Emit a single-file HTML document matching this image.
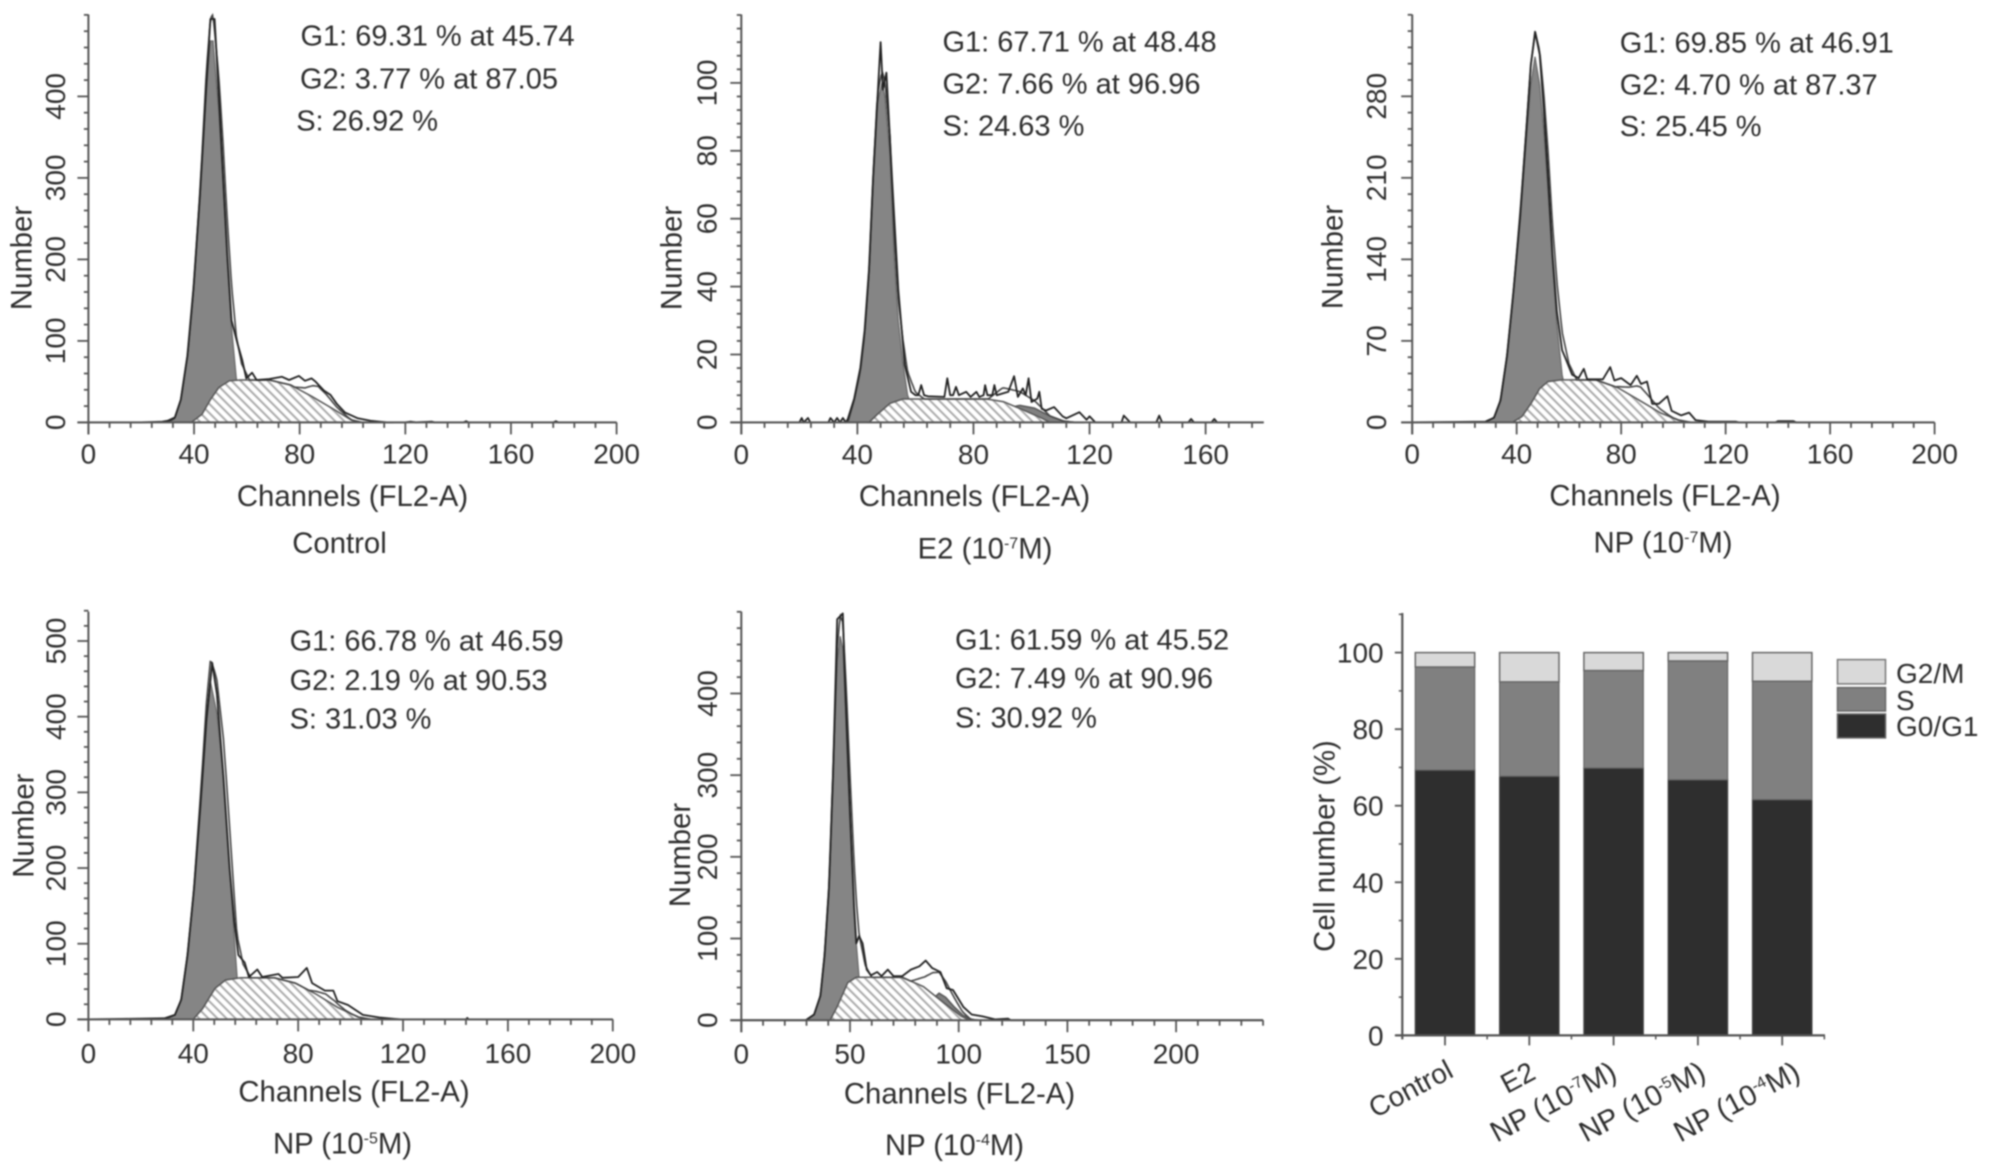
<!DOCTYPE html>
<html lang="en">
<head>
<meta charset="utf-8">
<title>Cell cycle flow cytometry histograms</title>
<style>
html,body{margin:0;padding:0;background:#fff;width:1989px;height:1174px;overflow:hidden}
svg{display:block;filter:blur(0.7px)}
text{font-family:"Liberation Sans",sans-serif;fill:#2e2e2e}
.st{font-size:29px}.ti{font-size:29.3px}.tk{font-size:28px}
</style>
</head>
<body>
<svg id="fig" xmlns="http://www.w3.org/2000/svg" width="1989" height="1174" viewBox="0 0 1989 1174">
<defs>
<pattern id="hatch" patternUnits="userSpaceOnUse" width="6.4" height="6.4" patternTransform="rotate(-45)">
<rect width="6.4" height="6.4" fill="#fff"/>
<line x1="3.2" y1="0" x2="3.2" y2="6.4" stroke="#a6a6a6" stroke-width="1.9"/>
</pattern>
</defs>
<g>
<text class="st" x="300.5" y="45.4">G1: 69.31 % at 45.74</text>
<text class="st" x="300" y="88.3">G2: 3.77 % at 87.05</text>
<text class="st" x="296.2" y="130.5">S: 26.92 %</text>
</g>
<text class="ti" x="352.5" y="506" text-anchor="middle">Channels (FL2-A)</text>
<text class="ti" x="339.5" y="553" text-anchor="middle">Control</text>
<text class="ti" transform="translate(31.5 258) rotate(-90)" text-anchor="middle">Number</text>

<g>
<text class="st" x="942.5" y="51.6">G1: 67.71 % at 48.48</text>
<text class="st" x="942.5" y="93.4">G2: 7.66 % at 96.96</text>
<text class="st" x="942.5" y="135.6">S: 24.63 %</text>
</g>
<text class="ti" x="974.5" y="506" text-anchor="middle">Channels (FL2-A)</text>
<text class="ti" x="985" y="558.5" text-anchor="middle">E2 (10<tspan dy="-10" font-size="16">-7</tspan><tspan dy="10">M)</tspan></text>
<text class="ti" transform="translate(681.6 258) rotate(-90)" text-anchor="middle">Number</text>

<g>
<text class="st" x="1619.7" y="52.7">G1: 69.85 % at 46.91</text>
<text class="st" x="1619.7" y="94.5">G2: 4.70 % at 87.37</text>
<text class="st" x="1619.7" y="136.2">S: 25.45 %</text>
</g>
<text class="ti" x="1665" y="505.3" text-anchor="middle">Channels (FL2-A)</text>
<text class="ti" x="1663" y="552.3" text-anchor="middle">NP (10<tspan dy="-10" font-size="16">-7</tspan><tspan dy="10">M)</tspan></text>
<text class="ti" transform="translate(1342.5 257) rotate(-90)" text-anchor="middle">Number</text>

<g>
<text class="st" x="289.6" y="650.7">G1: 66.78 % at 46.59</text>
<text class="st" x="289.6" y="689.8">G2: 2.19 % at 90.53</text>
<text class="st" x="289.6" y="728.5">S: 31.03 %</text>
</g>
<text class="ti" x="354" y="1101.5" text-anchor="middle">Channels (FL2-A)</text>
<text class="ti" x="342.5" y="1153.5" text-anchor="middle">NP (10<tspan dy="-10" font-size="16">-5</tspan><tspan dy="10">M)</tspan></text>
<text class="ti" transform="translate(33.7 825.7) rotate(-90)" text-anchor="middle">Number</text>

<g>
<text class="st" x="955" y="649.6">G1: 61.59 % at 45.52</text>
<text class="st" x="955" y="688">G2: 7.49 % at 90.96</text>
<text class="st" x="955" y="727.5">S: 30.92 %</text>
</g>
<text class="ti" x="959.5" y="1103.5" text-anchor="middle">Channels (FL2-A)</text>
<text class="ti" x="954.5" y="1155" text-anchor="middle">NP (10<tspan dy="-10" font-size="16">-4</tspan><tspan dy="10">M)</tspan></text>
<text class="ti" transform="translate(690 855) rotate(-90)" text-anchor="middle">Number</text>

<text class="ti" transform="translate(1334.6 846) rotate(-90)" text-anchor="middle">Cell number (%)</text>
<g>
<text class="tk" transform="translate(1455 1076) rotate(-28)" text-anchor="end">Control</text>
<text class="tk" transform="translate(1537.4 1078) rotate(-28)" text-anchor="end">E2</text>
<text class="tk" style="font-size:29px" transform="translate(1618.5 1078) rotate(-28)" text-anchor="end">NP (10<tspan dy="-10" font-size="16">-7</tspan><tspan dy="10">M)</tspan></text>
<text class="tk" style="font-size:29px" transform="translate(1707.5 1078) rotate(-28)" text-anchor="end">NP (10<tspan dy="-10" font-size="16">-5</tspan><tspan dy="10">M)</tspan></text>
<text class="tk" style="font-size:29px" transform="translate(1802 1078) rotate(-28)" text-anchor="end">NP (10<tspan dy="-10" font-size="16">-4</tspan><tspan dy="10">M)</tspan></text>
</g>
<g>
<rect x="1837.5" y="659.6" width="48" height="24.3" fill="#d9d9d9" stroke="#777" stroke-width="1.5"/>
<rect x="1837.5" y="687.6" width="48" height="23.4" fill="#808080" stroke="#666" stroke-width="1.5"/>
<rect x="1837.5" y="714" width="48" height="23.9" fill="#2e2e2e" stroke="#666" stroke-width="1.5"/>
<text class="tk" x="1896" y="683">G2/M</text>
<text class="tk" x="1896" y="710">S</text>
<text class="tk" x="1896" y="736">G0/G1</text>
</g>
</svg>
<script>
/* Control */
const controlHistChannels=[0,20,28,30,32.7,35,37.5,39.8,42.2,44.6,46.2,47.8,49.4,51,52.6,54.2,56.6,58.2,59.8,62,63.7,68,73.3,76,79.7,82,84.5,86,89.2,91.6,94,97.2,102,106.8,113,120,122,124,130,131,142,143,144,176,177,178,200];
const controlHistCounts=[0,0,1,2,6,28,82,165,278,410,495,495,400,300,205,125,95,77,54,61,52,53,56,52,57,51,54,50,39,34,23,12,5,2,0,0,1,0,1,0,0,1.5,0,0,1.5,0,0];
const controlG1Channels=[30,32.7,35,37.5,39.8,42.2,44.6,46.2,47.2,49.4,51,52.6,54.2,56,58,61];
const controlG1Counts=[0,5,28,81,161,273,407,468,468,380,295,197,117,54,20,0];
const controlSChannels=[39,43,46.2,49.4,53.4,57.4,68.5,76.5,84.5,92.4,99.6,103.6];
const controlSCounts=[0,10,28,43,51,52,52,46,32,17,3,0];
const controlG2Channels=[78,82,85,87,90,94,98,100];
const controlG2Counts=[0,6,14,17,13,5,1,0];
/* E2 */
const e2HistChannels=[0,20,20.8,21.5,23,23.8,25,30,30.7,32,33,34,35,36,36.7,38.9,41,42.5,44,45.4,46.9,48,48.8,50,52,54.1,56.3,58.5,60,61,62,63,64.3,70,71,72,73,74,75,77.5,79,81,82,83.5,84,84.8,86.5,87.2,88,92,94,95.3,97,98,99,100,102,102.7,103.5,105,107.8,110.7,112,116.5,119,120,122,131,131.8,134,143,144,145,154,155,156,162,163,164,180];
const e2HistCounts=[0,0,1.3,0,1.3,0,0,0,1.3,0,1.3,0,1.3,0,1,7,16,27,45,72,95,112,98,103,71,39,17,9,8,8,11,8,7.7,7.5,13,8,8,10.5,8,9,7.5,9,7.5,8,11,8,8,11,8,9,13.6,7.5,10,8,13,6,7,9,4,3.5,4.5,1.8,1.2,3,0.8,1.8,0,0,2,0,0,2,0,0,1,0,0,1,0,0];
const e2G1Channels=[36.7,38.9,41,42.5,44,45.4,46.9,48.5,49.5,51.2,52.7,54.1,55.6,57.3,60,63];
const e2G1Counts=[0,6.6,15,26,44,71,94,100,96,79,49,30,18,8,2,0];
const e2SChannels=[44,46.9,51.2,55.6,84.6,90.4,96.2,103.4,106.4];
const e2SCounts=[0,2.4,5.6,6.9,6.9,6.1,4,1.3,0];
const e2G2Channels=[85,90,96,101,106,111,115];
const e2G2Counts=[0,4,5,4.2,2,0.4,0];
/* NP 10-7 */
const np7HistChannels=[0,28,31.3,33.8,36.3,38.8,41.3,43.8,45.4,47.1,48.8,50.4,52.1,53.7,55.4,57.4,58.7,61.2,63.7,65.7,67,73,75.8,77.4,80,83.6,86,87.6,89.9,91.9,94.4,97.7,99.3,103,106,108.5,113.4,124,125,139,140,146,147,200];
const np7HistCounts=[0,0.6,4,19,57,113,176,254,307,335,316,269,207,144,95,62,55,41,38,46,37,37,47.5,36,38,32,40,33,35,16,16,22.5,10,6,8.4,2,0.6,0.6,0,0,1,1,0,0];
const np7G1Channels=[28,31.3,33.8,36.3,38.8,41.3,43.8,45.4,47,48.8,50.4,52.1,53.7,55.4,57.4,60,63];
const np7G1Counts=[0.6,4,19,57,113,176,245,290,314,290,250,195,135,84,41,14,0];
const np7SChannels=[38.8,42,45.4,48.8,52,57,70.3,78.6,87,95.2,102,106.8];
const np7SCounts=[0.6,5,16,29,35,36.5,36.5,30,19,8,2,0];
const np7G2Channels=[78,83,86,87.4,90,94,98,100];
const np7G2Counts=[0,6,11,12,9,4,1,0];
/* NP 10-5 */
const np5HistChannels=[0,29,33,35.4,37.8,40.3,42.7,45,47.2,49,51.5,53.9,55.6,57.2,59.6,61.2,64.4,66.3,72.5,74,80,83.3,85.3,90.2,93.4,95,99,104.7,111,119,144,144.5,145,200];
const np5HistCounts=[0,1.5,6,26,85,174,282,395,471,430,321,198,130,85,75,56,66,56,60,55,56,68,48,38,38,24,19,6,2.5,0,0,2,0,0];
const np5G1Channels=[29,33,35.4,37.8,40.3,42.7,45,46.6,49,51.5,53.9,55.6,56.7,59,62];
const np5G1Counts=[0,6,26,85,174,282,395,445,405,321,198,110,56,18,0];
const np5SChannels=[40.3,43.5,48.3,52.3,58,70.9,78.9,87,95,103,108];
const np5SCounts=[1.5,14,41,52,55,55,48,33,16,3,0];
const np5G2Channels=[84,87,90.5,94,98,100];
const np5G2Counts=[0,4,8,6,1,0];
/* NP 10-4 */
const np4HistChannels=[0,29.6,33.5,36.4,38.3,40.3,42.2,44.1,46.7,48,50,51.9,52.9,54.2,55.8,57.7,59.6,62.5,64.5,67.4,70,74,78,81.9,84.8,87.7,91.6,94.5,97.4,102.2,106,111,116.7,122.6,124,240];
const np4HistCounts=[0,0,7,30,80,162,299,491,498,390,253,139,94,103,94,62,55,59,54,62,54,54,62,66,73,64,59,39,37,16,7,4.6,1,2,0,0];
const np4G1Channels=[29.6,33.5,36.4,38.3,40.3,42.2,44.1,45.5,46.7,48,50,51.9,52.9,54.2,57,60];
const np4G1Counts=[0,7,30,80,162,299,440,470,455,380,253,139,94,52,15,0];
const np4SChannels=[41.2,44,49,52.9,74,83.8,93.5,101.3,105];
const np4SCounts=[2,16,46,52.5,52.5,41,20.5,4.6,0];
const np4G2Channels=[78,84,88,91,94,98,102,106,109];
const np4G2Counts=[0,12,26,33,28,16,6,1,0];
/* Tick labels */
const controlXTicks=[0,40,80,120,160,200];
const controlYTicks=[0,100,200,300,400];
const e2XTicks=[0,40,80,120,160];
const e2YTicks=[0,20,40,60,80,100];
const np7XTicks=[0,40,80,120,160,200];
const np7YTicks=[0,70,140,210,280];
const np5XTicks=[0,40,80,120,160,200];
const np5YTicks=[0,100,200,300,400,500];
const np4XTicks=[0,50,100,150,200];
const np4YTicks=[0,100,200,300,400];
/* Stacked bars */
const barCategories=['Control','E2','NP 1e-7','NP 1e-5','NP 1e-4'];
const barG0G1=[69.31,67.71,69.85,66.78,61.59];
const barS=[26.92,24.63,25.45,31.03,30.92];
const barG2M=[3.77,7.66,4.70,2.19,7.49];
const barYTicks=[0,20,40,60,80,100];

const NS='http://www.w3.org/2000/svg';
const svg=document.getElementById('fig');
function make(tag,parent,attrs){
  const e=document.createElementNS(NS,tag);
  for(const k in attrs)e.setAttribute(k,attrs[k]);
  parent.appendChild(e);
  return e;
}
function interp(cs,vs,c){
  if(c<=cs[0]||c>=cs[cs.length-1])return 0;
  for(let i=1;i<cs.length;i++){
    if(c<=cs[i]){const t=(c-cs[i-1])/(cs[i]-cs[i-1]);return vs[i-1]+t*(vs[i]-vs[i-1]);}
  }
  return 0;
}
function drawHistogram(p){
  const g=make('g',svg,{});
  
  
  const sx=c=>p.x0+c*p.pxPerX;
  const sy=v=>p.y0-v*p.pxPerY;
  const line=(cs,vs)=>cs.map((c,i)=>sx(c).toFixed(1)+','+sy(vs[i]).toFixed(1)).join(' ');
  const area=(cs,vs)=>sx(cs[0]).toFixed(1)+','+p.y0+' '+line(cs,vs)+' '+sx(cs[cs.length-1]).toFixed(1)+','+p.y0;

  const g1=make('polygon',g,{points:area(p.g1C,p.g1V),fill:'#858585',stroke:'#666','stroke-width':1.2});
  
  
  const g2=make('polygon',g,{points:area(p.g2C,p.g2V),fill:'#808080',stroke:'#555','stroke-width':1.5});
  
  
  const s=make('polygon',g,{points:area(p.sC,p.sV),fill:'url(#hatch)',stroke:'#555','stroke-width':1.5});
  
  

  const totC=[],totV=[];
  for(let c=p.g1C[0];c<=p.sC[p.sC.length-1]+12;c+=0.5){
    totC.push(c);
    totV.push(interp(p.g1C,p.g1V,c)+interp(p.sC,p.sV,c)+interp(p.g2C,p.g2V,c));
  }
  const fit=make('polyline',g,{points:line(totC,totV),fill:'none',stroke:'#444','stroke-width':1.6});
  
  
  const hist=make('polyline',g,{points:line(p.hC,p.hV),fill:'none',stroke:'#222','stroke-width':1.8,'stroke-linejoin':'round'});
  
  

  const yAxis=make('line',g,{x1:p.x0,x2:p.x0,y1:p.yTop,y2:p.y0+12,stroke:'#555','stroke-width':2});
  
  
  const xAxis=make('line',g,{x1:p.x0-11,x2:sx(p.xMax),y1:p.y0,y2:p.y0,stroke:'#555','stroke-width':2});
  
  

  for(let c=0;c<=p.xMax+0.01;c+=p.xMinor){
    const major=p.xT.includes(c);
    const t=make('line',g,{x1:sx(c),x2:sx(c),y1:p.y0,y2:p.y0+(major?12:5.5),stroke:'#555','stroke-width':1.8});
    
    
  }
  for(let v=0;v<=p.yMax+0.01;v+=p.yMinor){
    const major=p.yT.includes(v);
    const t=make('line',g,{x1:p.x0-(major?11:4.5),x2:p.x0,y1:sy(v),y2:sy(v),stroke:'#555','stroke-width':1.8});
    
    
  }
  p.xT.forEach(c=>{
    const t=make('text',g,{class:'tk',x:sx(c),y:p.xLabelY,'text-anchor':'middle'});
    t.textContent=c;
    
    
  });
  p.yT.forEach(v=>{
    const t=make('text',g,{class:'tk',transform:'translate('+p.yLabelX+' '+sy(v)+') rotate(-90)','text-anchor':'middle'});
    t.textContent=v;
    
    
  });
}
drawHistogram({id:'control',x0:88.4,pxPerX:2.641,y0:422.4,pxPerY:0.815,yTop:14.5,xMax:200,yMax:500,xMinor:8,yMinor:20,xLabelY:463.5,yLabelX:65,
  hC:controlHistChannels,hV:controlHistCounts,g1C:controlG1Channels,g1V:controlG1Counts,sC:controlSChannels,sV:controlSCounts,g2C:controlG2Channels,g2V:controlG2Counts,xT:controlXTicks,yT:controlYTicks});
drawHistogram({id:'e2',x0:741.3,pxPerX:2.902,y0:422.4,pxPerY:3.395,yTop:14.5,xMax:180,yMax:120,xMinor:8,yMinor:4,xLabelY:464,yLabelX:716.5,
  hC:e2HistChannels,hV:e2HistCounts,g1C:e2G1Channels,g1V:e2G1Counts,sC:e2SChannels,sV:e2SCounts,g2C:e2G2Channels,g2V:e2G2Counts,xT:e2XTicks,yT:e2YTicks});
drawHistogram({id:'np7',x0:1412.2,pxPerX:2.612,y0:422.4,pxPerY:1.1646,yTop:14.5,xMax:200,yMax:350,xMinor:8,yMinor:14,xLabelY:463.5,yLabelX:1386,
  hC:np7HistChannels,hV:np7HistCounts,g1C:np7G1Channels,g1V:np7G1Counts,sC:np7SChannels,sV:np7SCounts,g2C:np7G2Channels,g2V:np7G2Counts,xT:np7XTicks,yT:np7YTicks});
drawHistogram({id:'np5',x0:88.4,pxPerX:2.622,y0:1019.4,pxPerY:0.7568,yTop:611.6,xMax:200,yMax:540,xMinor:8,yMinor:20,xLabelY:1063,yLabelX:65.5,
  hC:np5HistChannels,hV:np5HistCounts,g1C:np5G1Channels,g1V:np5G1Counts,sC:np5SChannels,sV:np5SCounts,g2C:np5G2Channels,g2V:np5G2Counts,xT:np5XTicks,yT:np5YTicks});
drawHistogram({id:'np4',x0:741.3,pxPerX:2.174,y0:1020.2,pxPerY:0.8168,yTop:611.6,xMax:240,yMax:500,xMinor:10,yMinor:20,xLabelY:1063.7,yLabelX:717,
  hC:np4HistChannels,hV:np4HistCounts,g1C:np4G1Channels,g1V:np4G1Counts,sC:np4SChannels,sV:np4SCounts,g2C:np4G2Channels,g2V:np4G2Counts,xT:np4XTicks,yT:np4YTicks});

(function(){
  const g=make('g',svg,{});
  
  
  const x0=1402.3,xEnd=1825,y0=1035.4,yTop=613,pxPerY=3.828,first=1445,step=84.3,barW=59.4;
  const sy=v=>y0-v*pxPerY;
  barCategories.forEach((c,i)=>{
    const cx=first+i*step;
    const v1=barG0G1[i],v2=barS[i],v3=barG2M[i];
    const r1=make('rect',g,{x:cx-barW/2,y:sy(v1),width:barW,height:sy(0)-sy(v1),fill:'#2e2e2e',stroke:'#444','stroke-width':1.2});
    
    
    const r2=make('rect',g,{x:cx-barW/2,y:sy(v1+v2),width:barW,height:sy(v1)-sy(v1+v2),fill:'#808080',stroke:'#666','stroke-width':1.2});
    
    
    const r3=make('rect',g,{x:cx-barW/2,y:sy(v1+v2+v3),width:barW,height:sy(v1+v2)-sy(v1+v2+v3),fill:'#d9d9d9',stroke:'#666','stroke-width':1.5});
    
    
    const t=make('line',g,{x1:cx,x2:cx,y1:y0,y2:y0+10,stroke:'#555','stroke-width':1.8});
    
    
    const m=make('line',g,{x1:cx+step/2,x2:cx+step/2,y1:y0,y2:y0+4,stroke:'#555','stroke-width':1.5});
    
    
  });
  const yAxis=make('line',g,{x1:x0,x2:x0,y1:yTop,y2:y0+4,stroke:'#555','stroke-width':2.2});
  
  
  const xAxis=make('line',g,{x1:x0-7,x2:xEnd,y1:y0,y2:y0,stroke:'#555','stroke-width':2.2});
  
  
  barYTicks.forEach(v=>{
    const t=make('line',g,{x1:x0-7.5,x2:x0,y1:sy(v),y2:sy(v),stroke:'#555','stroke-width':1.8});
    
    
    const m=make('line',g,{x1:x0-3.5,x2:x0,y1:sy(v+10),y2:sy(v+10),stroke:'#555','stroke-width':1.5});
    
    
    const l=make('text',g,{class:'tk',x:1383.6,y:sy(v)+10,'text-anchor':'end'});
    l.textContent=v;
    
    
  });
})();
</script>
</body>
</html>
